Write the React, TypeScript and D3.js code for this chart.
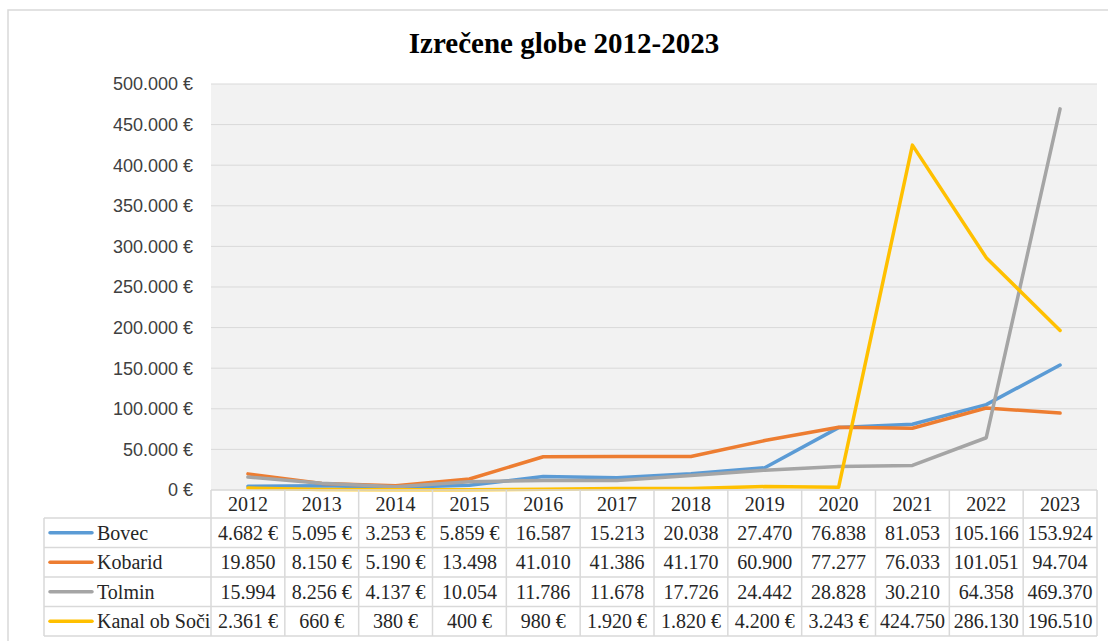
import React from "react";
import * as d3 from "d3";

const years = ["2012", "2013", "2014", "2015", "2016", "2017", "2018", "2019", "2020", "2021", "2022", "2023"];
const bovec = [4682, 5095, 3253, 5859, 16587, 15213, 20038, 27470, 76838, 81053, 105166, 153924];
const kobarid = [19850, 8150, 5190, 13498, 41010, 41386, 41170, 60900, 77277, 76033, 101051, 94704];
const tolmin = [15994, 8256, 4137, 10054, 11786, 11678, 17726, 24442, 28828, 30210, 64358, 469370];
const kanal = [2361, 660, 380, 400, 980, 1920, 1820, 4200, 3243, 424750, 286130, 196510];
const seriesNames = ["Bovec", "Kobarid", "Tolmin", "Kanal ob Soči"];
const seriesColors = ["#5b9bd5", "#ed7d31", "#a5a5a5", "#ffc000"];
const yTicks = [0, 50000, 100000, 150000, 200000, 250000, 300000, 350000, 400000, 450000, 500000];
const title = "Izrečene globe 2012-2023";

const W = 1108;
const H = 641;
const plotLeft = 211;
const plotRight = 1097;
const plotTop = 84;
const plotBottom = 490;
const tableLeft = 44;
const rowH = 29.5;
const headerH = 28;

const locale = d3.formatLocale({ decimal: ",", thousands: ".", grouping: [3], currency: ["", " €"] });
const fmtNum = locale.format(",d");
const fmtAxis = (v: number) => (v === 0 ? "0 €" : fmtNum(v) + " €");
const fmtCell = (v: number) => (v < 10000 ? fmtNum(v) + " €" : fmtNum(v));

export default function App() {
  const series = [bovec, kobarid, tolmin, kanal];
  const x = d3.scaleBand<string>().domain(years).range([plotLeft, plotRight]);
  const y = d3.scaleLinear().domain([0, 500000]).range([plotBottom, plotTop]);
  const line = d3
    .line<number>()
    .x((_, i) => (x(years[i]) as number) + x.bandwidth() / 2)
    .y((d) => y(d));

  const serif = "'Liberation Serif', 'Times New Roman', serif";
  const sans = "'Liberation Sans', Arial, sans-serif";
  const grid = "#d9d9d9";
  const tableTop = plotBottom;
  const rowsTop = tableTop + headerH;
  const tableBottom = rowsTop + rowH * 4;

  return (
    <svg
      width={W}
      height={H}
      style={{ position: "absolute", left: 0, top: 0, background: "#fff" }}
    >
      <rect x={8} y={10} width={1110} height={650} fill="#fff" stroke="#d9d9d9" strokeWidth={1.5} />
      <text
        x={564}
        y={53}
        textAnchor="middle"
        fontFamily={serif}
        fontWeight="bold"
        fontSize={29}
        fill="#000"
      >
        {title}
      </text>
      <rect x={plotLeft} y={plotTop} width={plotRight - plotLeft} height={plotBottom - plotTop} fill="#f2f2f2" />
      {yTicks.map((t) => (
        <g key={t}>
          {t > 0 && (
            <line x1={plotLeft} x2={plotRight} y1={y(t)} y2={y(t)} stroke={grid} strokeWidth={1} />
          )}
          <text
            x={193}
            y={y(t)}
            dy="0.35em"
            textAnchor="end"
            fontFamily={sans}
            fontSize={18}
            fill="#404040"
          >
            {fmtAxis(t)}
          </text>
        </g>
      ))}
      {series.map((s, i) => (
        <path
          key={i}
          d={line(s) || ""}
          fill="none"
          stroke={seriesColors[i]}
          strokeWidth={3.5}
          strokeLinejoin="round"
          strokeLinecap="round"
        />
      ))}
      <g stroke={grid} strokeWidth={1.5}>
        <line x1={plotLeft} x2={plotRight} y1={tableTop} y2={tableTop} />
        {[0, 1, 2, 3, 4].map((r) => (
          <line key={r} x1={tableLeft} x2={plotRight} y1={rowsTop + r * rowH} y2={rowsTop + r * rowH} />
        ))}
        <line x1={tableLeft} x2={tableLeft} y1={rowsTop} y2={tableBottom} />
        {years.map((yr) => (
          <line key={yr} x1={x(yr) as number} x2={x(yr) as number} y1={tableTop} y2={tableBottom} />
        ))}
        <line x1={plotRight} x2={plotRight} y1={tableTop} y2={tableBottom} />
      </g>
      {years.map((yr) => (
        <text
          key={yr}
          x={(x(yr) as number) + x.bandwidth() / 2}
          y={tableTop + headerH / 2}
          dy="0.35em"
          textAnchor="middle"
          fontFamily={serif}
          fontSize={20}
          fill="#262626"
        >
          {yr}
        </text>
      ))}
      {series.map((s, r) => {
        const cy = rowsTop + r * rowH + rowH / 2;
        return (
          <g key={r}>
            <line x1={50} x2={92} y1={cy} y2={cy} stroke={seriesColors[r]} strokeWidth={3.5} strokeLinecap="round" />
            <text x={97} y={cy} dy="0.35em" fontFamily={serif} fontSize={20} fill="#262626">
              {seriesNames[r]}
            </text>
            {s.map((v, i) => (
              <text
                key={i}
                x={(x(years[i]) as number) + x.bandwidth() / 2}
                y={cy}
                dy="0.35em"
                textAnchor="middle"
                fontFamily={serif}
                fontSize={20}
                fill="#262626"
              >
                {fmtCell(v)}
              </text>
            ))}
          </g>
        );
      })}
    </svg>
  );
}
